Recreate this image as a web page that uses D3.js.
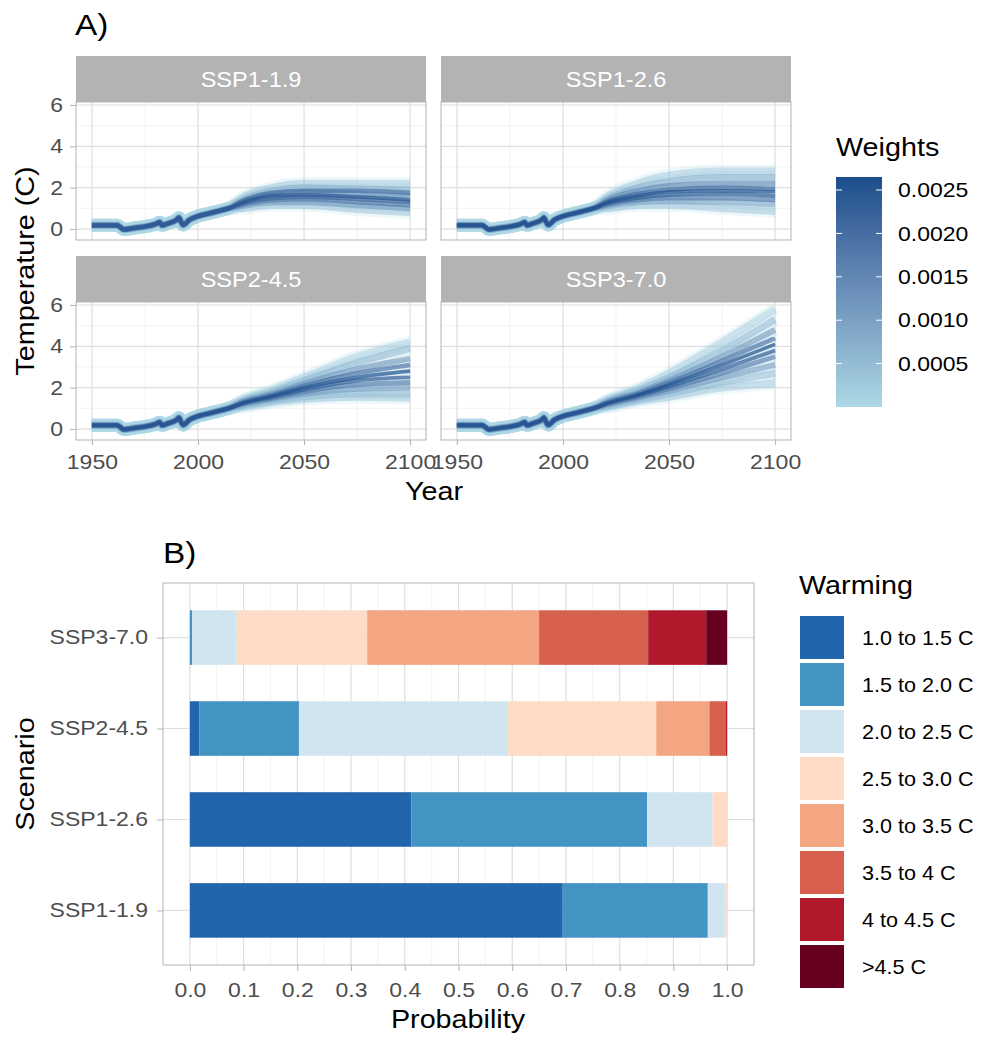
<!DOCTYPE html>
<html lang="en">
<head>
  <meta charset="UTF-8">
  <title>Warming projections</title>
  <script src="https://cdn.jsdelivr.net/npm/d3@7"></script>
  <style>
    body { margin: 0; background: #fff; }
    text { font-family: "Liberation Sans", Arial, sans-serif; }
  </style>
</head>
<body>
  <svg width="984" height="1038"></svg>

  <script>
    // ---- Panel A data: shared historical path, then weighted ensemble members
    const histYears = [1950, 1955, 1962, 1963, 1965, 1970, 1975, 1980, 1982, 1983, 1986, 1990, 1991, 1992, 1993, 1996, 2000, 2005, 2010, 2015];
    const histTemp  = [0.18, 0.18, 0.18, 0.12, -0.02, 0.05, 0.12, 0.24, 0.33, 0.18, 0.28, 0.45, 0.55, 0.35, 0.20, 0.45, 0.62, 0.75, 0.88, 1.02];
    const futureYears = [2020, 2035, 2050, 2075, 2100];

    const scenarios = ["SSP1-1.9", "SSP1-2.6", "SSP2-4.5", "SSP3-7.0"];

    const weights119 = [0.0003, 0.0008, 0.0020, 0.0015, 0.0025, 0.0022, 0.0018, 0.0012, 0.0004];
    const temps119 = [
      [1.45, 2.00, 2.20, 2.20, 2.20],
      [1.35, 1.85, 2.00, 1.95, 1.90],
      [1.30, 1.75, 1.85, 1.85, 1.75],
      [1.30, 1.70, 1.80, 1.70, 1.60],
      [1.25, 1.60, 1.65, 1.55, 1.40],
      [1.20, 1.50, 1.55, 1.45, 1.30],
      [1.15, 1.40, 1.45, 1.30, 1.15],
      [1.10, 1.30, 1.30, 1.15, 1.00],
      [1.00, 1.15, 1.15, 0.95, 0.80]
    ];

    const weights126 = [0.0003, 0.0008, 0.0015, 0.0022, 0.0026, 0.0024, 0.0018, 0.0010, 0.0004];
    const temps126 = [
      [1.50, 2.20, 2.60, 2.80, 2.80],
      [1.40, 2.00, 2.30, 2.50, 2.50],
      [1.35, 1.85, 2.10, 2.20, 2.20],
      [1.30, 1.70, 1.90, 2.00, 1.95],
      [1.25, 1.60, 1.80, 1.85, 1.80],
      [1.20, 1.50, 1.65, 1.70, 1.60],
      [1.15, 1.40, 1.50, 1.50, 1.40],
      [1.10, 1.30, 1.35, 1.30, 1.20],
      [1.00, 1.15, 1.15, 1.00, 0.85]
    ];

    const weights245 = [0.0002, 0.0007, 0.0013, 0.0020, 0.0026, 0.0024, 0.0018, 0.0012, 0.0006, 0.0003];
    const temps245 = [
      [1.35, 1.90, 2.50, 3.50, 4.20],
      [1.30, 1.80, 2.35, 3.20, 3.90],
      [1.28, 1.70, 2.20, 2.90, 3.40],
      [1.25, 1.65, 2.10, 2.70, 3.10],
      [1.22, 1.60, 2.00, 2.50, 2.80],
      [1.20, 1.55, 1.90, 2.35, 2.50],
      [1.18, 1.50, 1.80, 2.15, 2.25],
      [1.15, 1.45, 1.70, 1.95, 2.00],
      [1.10, 1.35, 1.55, 1.70, 1.70],
      [1.05, 1.30, 1.45, 1.55, 1.50]
    ];

    const weights370 = [0.0002, 0.0007, 0.0013, 0.0020, 0.0026, 0.0024, 0.0018, 0.0012, 0.0006, 0.0003];
    const temps370 = [
      [1.35, 1.95, 2.70, 4.20, 5.80],
      [1.30, 1.85, 2.50, 3.80, 5.30],
      [1.28, 1.75, 2.35, 3.50, 4.80],
      [1.25, 1.70, 2.25, 3.30, 4.40],
      [1.22, 1.65, 2.15, 3.10, 4.10],
      [1.20, 1.60, 2.05, 2.90, 3.80],
      [1.18, 1.55, 1.95, 2.70, 3.50],
      [1.15, 1.50, 1.85, 2.50, 3.10],
      [1.10, 1.40, 1.70, 2.25, 2.70],
      [1.05, 1.35, 1.55, 2.00, 2.20]
    ];

    const yearTicks = [1950, 2000, 2050, 2100];
    const yearMinor = [1975, 2025, 2075];
    const tempTicks = [0, 2, 4, 6];
    const tempMinor = [1, 3, 5];
    const weightTicks = [0.0005, 0.0010, 0.0015, 0.0020, 0.0025];

    // ---- Panel B data: probability of each warming class per scenario
    const warmingBins = ["1.0 to 1.5 C", "1.5 to 2.0 C", "2.0 to 2.5 C", "2.5 to 3.0 C",
                         "3.0 to 3.5 C", "3.5 to 4 C", "4 to 4.5 C", ">4.5 C"];
    const binColors = ["#2166ac", "#4393c3", "#d1e5f0", "#fddbc7", "#f4a582", "#d6604d", "#b2182b", "#67001f"];
    const prob119 = [0.694, 0.270, 0.033, 0.003, 0, 0, 0, 0];
    const prob126 = [0.412, 0.439, 0.122, 0.027, 0, 0, 0, 0];
    const prob245 = [0.018, 0.185, 0.389, 0.276, 0.099, 0.030, 0.003, 0];
    const prob370 = [0, 0.004, 0.083, 0.243, 0.320, 0.203, 0.108, 0.039];
    const probTicks = [0, 0.1, 0.2, 0.3, 0.4, 0.5, 0.6, 0.7, 0.8, 0.9, 1.0];
    const probMinor = [0.05, 0.15, 0.25, 0.35, 0.45, 0.55, 0.65, 0.75, 0.85, 0.95];

    const ensembles = {
      "SSP1-1.9": { w: weights119, t: temps119 },
      "SSP1-2.6": { w: weights126, t: temps126 },
      "SSP2-4.5": { w: weights245, t: temps245 },
      "SSP3-7.0": { w: weights370, t: temps370 }
    };
    const probs = { "SSP1-1.9": prob119, "SSP1-2.6": prob126, "SSP2-4.5": prob245, "SSP3-7.0": prob370 };

    const svg = d3.select("svg");
    const gridMajor = "#dedede", gridMinor = "#efefef", borderCol = "#b3b3b3", tickText = "#4d4d4d";
    const SX = 1.15;   // the original text renders a bit wide

    // plain text label, stretched horizontally
    function label(parent, x, y, str, size, opt = {}) {
      const rot = opt.rotate ? " rotate(-90)" : "";
      return parent.append("text")
        .attr("transform", `translate(${x},${y})${rot} scale(${opt.sx || SX},1)`)
        .attr("text-anchor", opt.anchor || "start")
        .attr("dy", opt.dy || null)
        .attr("fill", opt.fill || "#000")
        .attr("font-size", size)
        .text(str);
    }

    function styleAxis(ax, textX) {
      ax.select(".domain").remove();
      ax.selectAll("line").attr("stroke", borderCol);
      ax.selectAll("text").attr("fill", tickText).attr("font-size", 20)
        .style("font-family", "'Liberation Sans', Arial, sans-serif")
        .attr("transform", `scale(${SX},1)`);
      if (textX !== undefined) ax.selectAll("text").attr("x", textX / SX);
    }

    const wColor = d3.scaleLinear()
      .domain([0, 0.00265])
      .range(["#add8e6", "#1c4e8c"])
      .interpolate(d3.interpolateLab);

    // ---------------- Panel A ----------------
    label(svg, 75, 35, "A)", 29);

    const pw = 350, sh = 46, ph = 138;
    const facets = [
      { name: "SSP1-1.9", left: 76,  top: 56,  col: 0, row: 0 },
      { name: "SSP1-2.6", left: 441, top: 56,  col: 1, row: 0 },
      { name: "SSP2-4.5", left: 76,  top: 256, col: 0, row: 1 },
      { name: "SSP3-7.0", left: 441, top: 256, col: 1, row: 1 }
    ];

    facets.forEach(f => {
      const g = svg.append("g").attr("transform", `translate(${f.left},${f.top})`);
      const x = d3.scaleLinear().domain([1942.5, 2107.5]).range([0, pw]);
      const y = d3.scaleLinear().domain([-0.53, 6.145]).range([sh + ph, sh]);

      g.append("rect").attr("width", pw).attr("height", sh).attr("fill", "#b3b3b3");
      label(g, pw / 2, sh / 2, f.name, 22, { anchor: "middle", dy: "0.36em", fill: "#fff", sx: 1.07 });

      // grid
      g.selectAll(".vmin").data(yearMinor).join("line")
        .attr("x1", d => x(d)).attr("x2", d => x(d)).attr("y1", sh).attr("y2", sh + ph)
        .attr("stroke", gridMinor).attr("stroke-width", 0.7);
      g.selectAll(".hmin").data(tempMinor).join("line")
        .attr("x1", 0).attr("x2", pw).attr("y1", d => y(d)).attr("y2", d => y(d))
        .attr("stroke", gridMinor).attr("stroke-width", 0.7);
      g.append("g").selectAll("line").data(yearTicks).join("line")
        .attr("x1", d => x(d)).attr("x2", d => x(d)).attr("y1", sh).attr("y2", sh + ph)
        .attr("stroke", gridMajor).attr("stroke-width", 1.2);
      g.append("g").selectAll("line").data(tempTicks).join("line")
        .attr("x1", 0).attr("x2", pw).attr("y1", d => y(d)).attr("y2", d => y(d))
        .attr("stroke", gridMajor).attr("stroke-width", 1.2);

      // ensemble lines, light (low weight) ones first and widest
      const ens = ensembles[f.name];
      const members = ens.t.map((vals, i) => ({
        w: ens.w[i],
        pts: histYears.map((yr, j) => [yr, histTemp[j]])
          .concat(futureYears.map((yr, j) => [yr, vals[j]]))
      })).sort((a, b) => a.w - b.w);

      const line = d3.line().x(d => x(d[0])).y(d => y(d[1])).curve(d3.curveMonotoneX);
      const lines = g.append("g");
      lines.selectAll(".halo").data(members).join("path")
        .attr("d", d => line(d.pts))
        .attr("fill", "none")
        .attr("stroke", "#a3d0e2")
        .attr("stroke-width", 13)
        .attr("stroke-opacity", 0.18)
        .attr("stroke-linejoin", "round");
      lines.selectAll(".mem").data(members).join("path")
        .attr("d", d => line(d.pts))
        .attr("fill", "none")
        .attr("stroke", d => wColor(d.w))
        .attr("stroke-width", d => 8 - 4.5 * d.w / 0.00265)
        .attr("stroke-opacity", d => 0.45 + 0.25 * d.w / 0.00265)
        .attr("stroke-linejoin", "round");

      g.append("rect").attr("y", sh).attr("width", pw).attr("height", ph)
        .attr("fill", "none").attr("stroke", borderCol).attr("stroke-width", 1);

      if (f.col === 0) {
        const ay = g.append("g").call(d3.axisLeft(y).tickValues(tempTicks).tickFormat(d3.format("d")).tickSize(6));
        styleAxis(ay, -13);
      }
      if (f.row === 1) {
        const ax = g.append("g").attr("transform", `translate(0,${sh + ph})`)
          .call(d3.axisBottom(x).tickValues(yearTicks).tickFormat(d3.format("d")).tickSize(5).tickPadding(10));
        styleAxis(ax);
      }
    });

    label(svg, 434, 500, "Year", 25, { anchor: "middle" });
    label(svg, 34, 271, "Temperature (C)", 25, { anchor: "middle", rotate: true });

    // colour bar
    const grad = svg.append("defs").append("linearGradient").attr("id", "wgrad")
      .attr("x1", 0).attr("y1", 1).attr("x2", 0).attr("y2", 0);
    [0, 0.25, 0.5, 0.75, 1].forEach(p => {
      grad.append("stop").attr("offset", p).attr("stop-color", wColor(p * 0.00265));
    });
    const cbY = d3.scaleLinear().domain([0, 0.00265]).range([407, 177]);
    label(svg, 836, 156, "Weights", 25);
    svg.append("rect").attr("x", 836).attr("y", 177).attr("width", 46).attr("height", 230)
      .attr("fill", "url(#wgrad)");
    const cb = svg.append("g");
    cb.selectAll(".l").data(weightTicks).join("line")
      .attr("x1", 836).attr("x2", 842).attr("y1", d => cbY(d)).attr("y2", d => cbY(d))
      .attr("stroke", "#fff").attr("stroke-width", 1);
    cb.selectAll(".r").data(weightTicks).join("line")
      .attr("x1", 876).attr("x2", 882).attr("y1", d => cbY(d)).attr("y2", d => cbY(d))
      .attr("stroke", "#fff").attr("stroke-width", 1);
    weightTicks.forEach(d => label(cb, 898, cbY(d), d3.format(".4f")(d), 20, { dy: "0.36em" }));

    // ---------------- Panel B ----------------
    label(svg, 163, 563, "B)", 29);

    const bx = d3.scaleLinear().domain([-0.05, 1.05]).range([163, 754]);
    // discrete axis: 4 levels, 0.6 expansion each side, bars 0.6 wide
    const unit = 382 / 4.2;
    const byc = d3.scalePoint().domain(scenarios.slice().reverse()).range([583 + 0.6 * unit, 965 - 0.6 * unit]);
    const barH = 0.6 * unit;

    const gb = svg.append("g");
    gb.selectAll(".mn").data(probMinor).join("line")
      .attr("x1", d => bx(d)).attr("x2", d => bx(d)).attr("y1", 583).attr("y2", 965)
      .attr("stroke", gridMinor).attr("stroke-width", 0.8);
    gb.selectAll(".mj").data(probTicks).join("line")
      .attr("x1", d => bx(d)).attr("x2", d => bx(d)).attr("y1", 583).attr("y2", 965)
      .attr("stroke", gridMajor).attr("stroke-width", 1.2);
    gb.selectAll(".hz").data(scenarios).join("line")
      .attr("x1", 163).attr("x2", 754).attr("y1", d => byc(d)).attr("y2", d => byc(d))
      .attr("stroke", gridMajor).attr("stroke-width", 1.2);

    const rows = scenarios.map(s => {
      const o = { scenario: s };
      warmingBins.forEach((b, i) => { o[b] = probs[s][i]; });
      return o;
    });
    const stacked = d3.stack().keys(warmingBins)(rows);

    gb.selectAll(".series").data(stacked).join("g")
      .attr("fill", (d, i) => binColors[i])
      .selectAll("rect").data(d => d).join("rect")
      .attr("x", d => bx(d[0]))
      .attr("width", d => Math.max(0, bx(d[1]) - bx(d[0])))
      .attr("y", d => byc(d.data.scenario) - barH / 2)
      .attr("height", barH);

    svg.append("rect").attr("x", 163).attr("y", 583).attr("width", 591).attr("height", 382)
      .attr("fill", "none").attr("stroke", borderCol).attr("stroke-width", 1);

    const bax = svg.append("g").attr("transform", "translate(0,965)")
      .call(d3.axisBottom(bx).tickValues(probTicks).tickFormat(d3.format(".1f")).tickSize(6).tickPadding(12));
    styleAxis(bax);

    const bay = svg.append("g").attr("transform", "translate(163,0)")
      .call(d3.axisLeft(byc).tickSize(6));
    styleAxis(bay, -15);

    label(svg, 458, 1028, "Probability", 25, { anchor: "middle" });
    label(svg, 34, 774, "Scenario", 25, { anchor: "middle", rotate: true });

    // legend
    label(svg, 799, 594, "Warming", 25);
    const lg = svg.append("g").selectAll("g").data(warmingBins).join("g")
      .attr("transform", (d, i) => `translate(800,${616 + 47 * i})`);
    lg.append("rect").attr("width", 44).attr("height", 43).attr("fill", (d, i) => binColors[i]);
    lg.each(function (d) { label(d3.select(this), 62, 21.5, d, 20, { dy: "0.36em", sx: 1.08 }); });
  </script>
</body>
</html>
